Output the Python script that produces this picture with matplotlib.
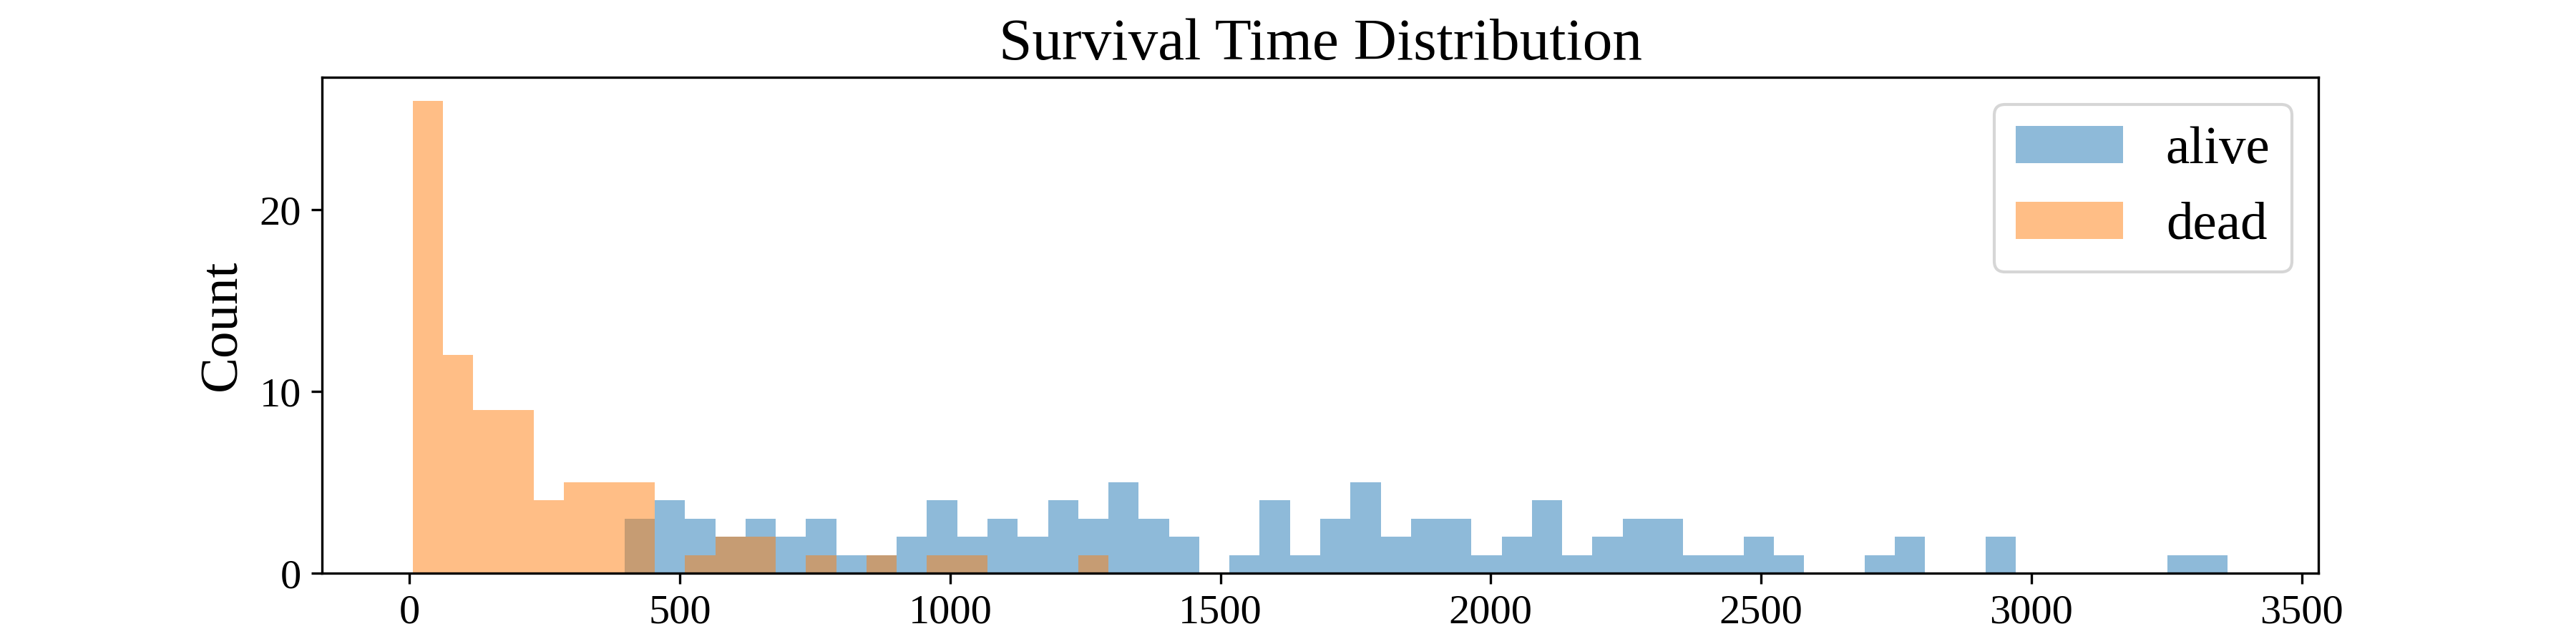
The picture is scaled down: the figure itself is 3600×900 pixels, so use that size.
import numpy as np
import matplotlib
matplotlib.use('Agg')
import matplotlib.pyplot as plt

plt.rcParams['font.family'] = ['Liberation Serif', 'DejaVu Serif']

# shared histogram range (days) and number of bins
time_min = 6
time_max = 3363
n_bins = 60

# counts per bin
alive_counts = [0, 0, 0, 0, 0, 0, 0, 3, 4, 3,
                2, 3, 2, 3, 1, 1, 2, 4, 2, 3,
                2, 4, 3, 5, 3, 2, 0, 1, 4, 1,
                3, 5, 2, 3, 3, 1, 2, 4, 1, 2,
                3, 3, 1, 1, 2, 1, 0, 0, 1, 2,
                0, 0, 2, 0, 0, 0, 0, 0, 1, 1]
dead_counts = [26, 12, 9, 9, 4, 5, 5, 5, 0, 1,
               2, 2, 0, 1, 0, 1, 0, 1, 1, 0,
               0, 0, 1, 0, 0, 0, 0, 0, 0, 0,
               0, 0, 0, 0, 0, 0, 0, 0, 0, 0,
               0, 0, 0, 0, 0, 0, 0, 0, 0, 0,
               0, 0, 0, 0, 0, 0, 0, 0, 0, 0]

edges = np.linspace(time_min, time_max, n_bins + 1)
centers = (edges[:-1] + edges[1:]) / 2

fig, ax = plt.subplots(figsize=(12, 3))
ax.hist(centers, bins=edges, weights=alive_counts, alpha=0.5, label='alive')
ax.hist(centers, bins=edges, weights=dead_counts, alpha=0.5, label='dead')
ax.set_title('Survival Time Distribution', fontsize=20)
ax.set_ylabel('Count', fontsize=18)
ax.tick_params(labelsize=14)
ax.legend(fontsize=18)
fig.savefig('out.png', dpi=300)
